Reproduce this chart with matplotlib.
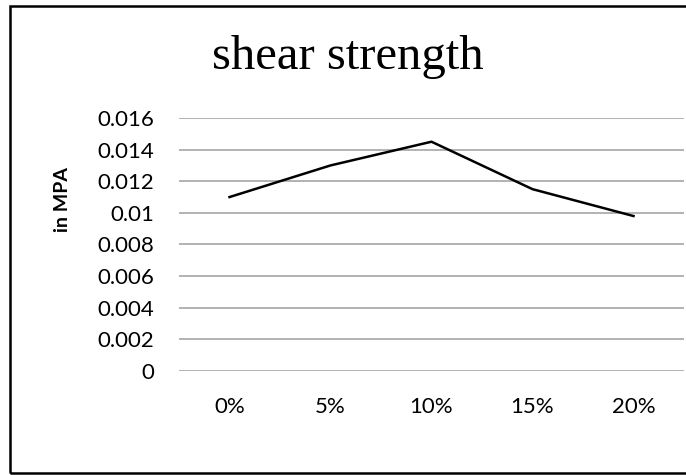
import matplotlib
matplotlib.use('Agg')
import matplotlib.pyplot as plt
from matplotlib.patches import Rectangle

# data
categories = ['0%', '5%', '10%', '15%', '20%']
shear = [0.011, 0.013, 0.0145, 0.0115, 0.0098]
yticks = [0, 0.002, 0.004, 0.006, 0.008, 0.01, 0.012, 0.014, 0.016]
ytick_labels = ['0', '0.002', '0.004', '0.006', '0.008', '0.01', '0.012', '0.014', '0.016']

W, H = 686, 475
fig = plt.figure(figsize=(W / 100, H / 100), dpi=100)

# plot area in pixels: left 179, right 684, top 118 (0.016), bottom 371 (0)
ax = fig.add_axes([179 / W, 1 - 371 / H, (684 - 179) / W, (371 - 118) / H])
x = list(range(len(categories)))
ax.plot(x, shear, color='black', linewidth=1.8)
ax.set_xlim(-0.5, len(categories) - 0.5)
ax.set_ylim(0, 0.016)
ax.set_yticks(yticks)
ax.set_yticklabels(ytick_labels, fontsize=16, family='Lato')
ax.set_xticks(x)
ax.set_xticklabels(categories, fontsize=16, family='Lato')
ax.tick_params(axis='both', length=0)
ax.tick_params(axis='x', pad=19)
ax.tick_params(axis='y', pad=18)
ax.grid(axis='y', color='#a6a6a6', linewidth=1.2)
ax.set_axisbelow(True)
for s in ax.spines.values():
    s.set_visible(False)

# y axis title sits above the axis centre in the original
fig.text(63 / W, 1 - 200 / H, 'in MPA', fontsize=14, fontweight='bold', family='Lato',
         rotation=90, ha='center', va='center')

fig.text(348 / W, 1 - 57 / H, 'shear strength', fontsize=35, family='Liberation Serif',
         ha='center', va='center')

# outer chart border
fig.patches.append(Rectangle((10 / W, 1 - 473 / H), (700 - 10) / W, (473 - 6) / H,
                             transform=fig.transFigure, fill=False, edgecolor='black',
                             linewidth=1.8))

fig.savefig('out.png', dpi=100)
